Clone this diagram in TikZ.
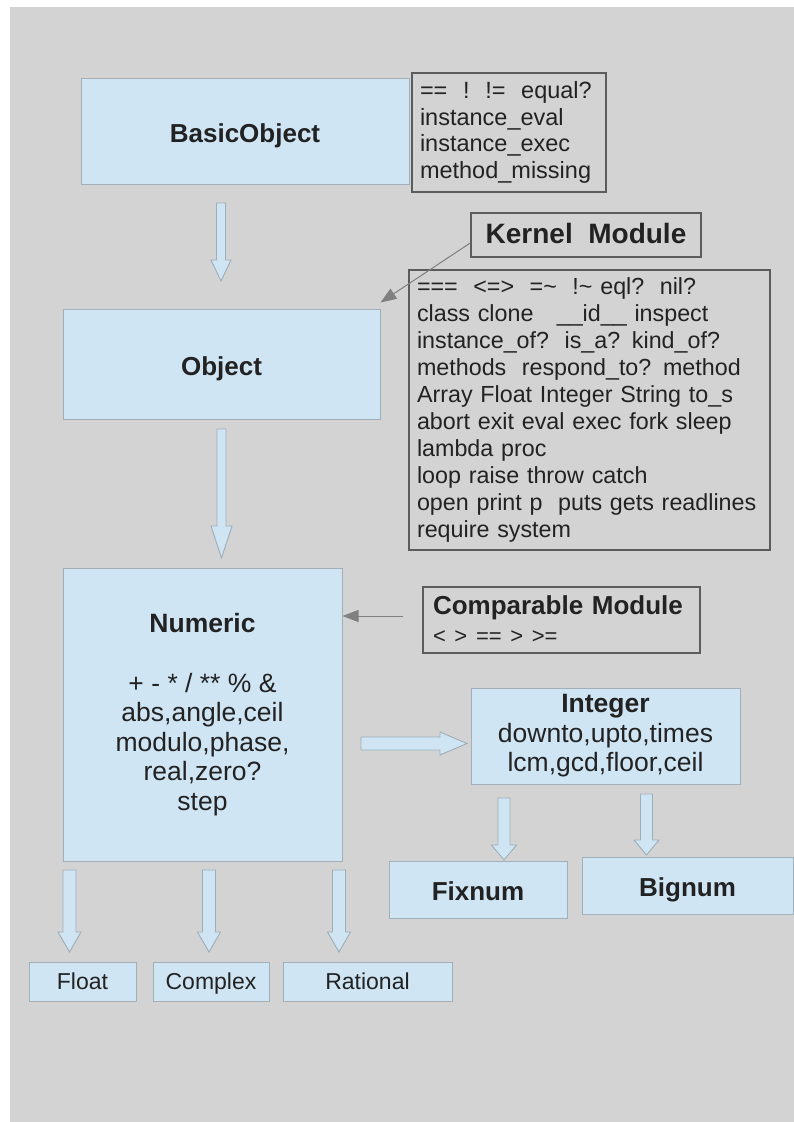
\documentclass[tikz,border=0pt]{standalone}
\usepackage{fontspec}
\setmainfont{Liberation Sans}
\usetikzlibrary{arrows.meta,calc}
\definecolor{bg}{HTML}{D3D3D3}
\definecolor{boxfill}{HTML}{CFE5F3}
\definecolor{boxline}{HTML}{A3AFB8}
\definecolor{arrline}{HTML}{9DADB8}
\definecolor{listline}{HTML}{5C5C5C}
\definecolor{txt}{HTML}{222222}
\definecolor{thinline}{HTML}{808080}
\newcommand\blockdown[6]{%
  \filldraw[blockarrow] ({#1-#5},#2) -- ({#1+#5},#2) -- ({#1+#5},#3) -- ({#1+#6},#3)
    -- (#1,#4) -- ({#1-#6},#3) -- ({#1-#5},#3) -- cycle;}
\begin{document}
\begin{tikzpicture}[x=1pt,y=-1pt,
  cls/.style={draw=boxline, fill=boxfill, line width=1pt, inner sep=0pt, text=txt, align=center},
  oneline/.style={text height=22pt, text depth=0pt},
  smallline/.style={text height=17pt, text depth=0.5pt},
  bigbold/.style={font=\fontsize{26}{30}\selectfont\bfseries},
  regtext/.style={font=\fontsize{26.5}{29.5}\selectfont},
  smalltext/.style={font=\fontsize{23}{27}\selectfont},
  listbox/.style={draw=listline, line width=1.5pt, fill=bg, text=txt, align=left, inner ysep=0pt},
  blockarrow/.style={draw=arrline, fill=boxfill, line width=0.9pt, line join=miter},
  thinarrow/.style={draw=thinline, line width=1pt, -{Triangle[length=16pt,width=12pt,fill=thinline]}}
]
\useasboundingbox (0,0) rectangle (794,1122);
\fill[bg] (10,7) rectangle (794,1122);

% class boxes
\node[cls, bigbold, oneline, minimum width=328pt, minimum height=106pt] (basic) at (245,131) {BasicObject};
\node[cls, bigbold, oneline, minimum width=317pt, minimum height=110pt] (object) at (221.5,364) {Object};
\node[cls, regtext, minimum width=279pt, minimum height=293pt] (numeric) at (202.5,714.5)
  {\textbf{Numeric}\\[30pt] + - * / ** \% \&\\abs,angle,ceil\\modulo,phase,\\real,zero?\\step};
\node[cls, regtext, minimum width=269pt, minimum height=96pt] (integer) at (605.5,736)
  {\textbf{Integer}\\downto,upto,times\\lcm,gcd,floor,ceil};
\node[cls, bigbold, oneline, minimum width=178pt, minimum height=57pt] (fixnum) at (478,889.5) {Fixnum};
\node[cls, bigbold, oneline, minimum width=211pt, minimum height=57pt] (bignum) at (687.5,885.5) {Bignum};
\node[cls, smalltext, smallline, minimum width=107pt, minimum height=39pt] (float) at (82.5,981.5) {Float};
\node[cls, smalltext, smallline, minimum width=116pt, minimum height=39pt] (complex) at (211,981.5) {Complex};
\node[cls, smalltext, smallline, minimum width=169pt, minimum height=39pt] (rational) at (367.5,981.5) {Rational};

% method / module boxes
\node[listbox, font=\fontsize{23.5}{26.7}\selectfont, text width=178pt, inner xsep=8pt,
  minimum height=119pt] (bmeth) at (509,132.5)
  {== \ !\ \ != \ equal?\\instance\_eval\\instance\_exec\\method\_missing};
\node[listbox, font=\fontsize{28}{32}\selectfont\bfseries, inner xsep=0pt, text height=20pt, text depth=2.5pt,
  minimum width=230pt, minimum height=44pt, align=center] (kernel) at (586,235) {Kernel\ \ Module};
\node[listbox, font=\fontsize{23.3}{27}\selectfont, text width=345pt, inner xsep=8pt,
  minimum height=280pt] (klist) at (589.5,410)
  {===\ \ <=>\ \ =\textasciitilde\ \ !\textasciitilde{} eql?\ \ nil?\\
   class clone\ \ \ \_\_id\_\_ inspect\\
   instance\_of?\ \ is\_a? kind\_of?\\
   methods\ \ respond\_to? method\\
   Array Float Integer String to\_s\\
   abort exit eval exec fork sleep\\
   lambda proc\\
   loop raise throw catch\\
   open print p\ \ puts gets readlines\\
   require system};
\node[listbox, font=\fontsize{26}{29}\selectfont, text width=257pt, inner xsep=10pt,
  minimum height=66pt] (comp) at (561.5,620)
  {\textbf{Comparable Module}\\{\fontsize{22}{29}\selectfont < > == > >=}};

% block arrows (inheritance)
\blockdown{221}{203}{260}{281}{4.5}{10}
\blockdown{221.5}{429}{526}{558}{4.5}{10.5}
\blockdown{69.5}{870}{932}{952}{6.5}{11.5}
\blockdown{209}{870}{932}{952}{6.5}{11.5}
\blockdown{339}{870}{932}{952}{6.5}{11.5}
\blockdown{504}{798}{845}{860}{6}{12.5}
\blockdown{646.5}{794}{840}{855}{6}{12.5}
\filldraw[blockarrow] (361,737) -- (440,737) -- (440,732) -- (467,743.5)
  -- (440,755) -- (440,750) -- (361,750) -- cycle;

% module include arrows
\coordinate (k1) at ($(kernel.west)+(0,8)$);
\coordinate (k2) at ($(object.north east)+(0,-6)$);
\draw[thinarrow] (k1) -- (k2);
\coordinate (c1) at ($(comp.west)+(-19,-4)$);
\draw[thinarrow] (c1) -- (c1 -| numeric.east);
\end{tikzpicture}
\end{document}
